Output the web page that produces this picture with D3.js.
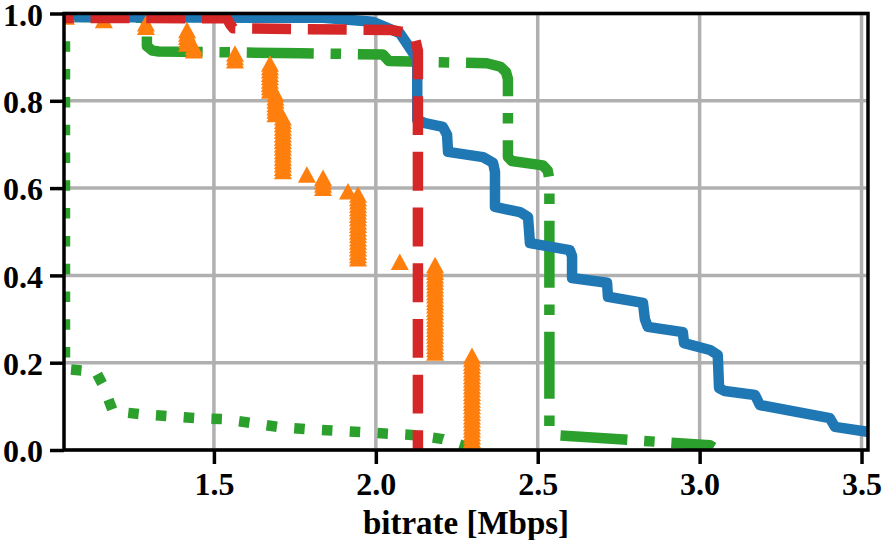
<!DOCTYPE html>
<html>
<head>
<meta charset="utf-8">
<script src="https://cdn.jsdelivr.net/npm/d3@7/dist/d3.min.js"></script>
<style>
  body { margin: 0; background: #fff; }
  text { font-family: "Liberation Serif", "Times New Roman", serif; font-weight: bold; fill: #000; }
</style>
</head>
<body>
<div id="ccdf"></div>
<script>
// tick values
var xTicks = [1.5, 2.0, 2.5, 3.0, 3.5];
var yTicks = [0.0, 0.2, 0.4, 0.6, 0.8, 1.0];

// blue (solid) curve
var blueRate = [1.000, 1.837, 1.991, 2.074, 2.105, 2.128, 2.128, 2.152, 2.207, 2.220, 2.223, 2.331, 2.362, 2.368, 2.368,
                2.445, 2.470, 2.476, 2.599, 2.606, 2.606, 2.714, 2.717, 2.825, 2.831, 2.840, 2.948, 2.952, 3.032,
                3.056, 3.060, 3.078, 3.171, 3.186, 3.402, 3.418, 3.550];
var blueFrac = [0.992, 0.990, 0.981, 0.955, 0.921, 0.895, 0.756, 0.749, 0.740, 0.722, 0.683, 0.671, 0.658, 0.637, 0.557,
                0.545, 0.534, 0.474, 0.458, 0.444, 0.394, 0.383, 0.351, 0.337, 0.300, 0.282, 0.270, 0.245, 0.229,
                0.218, 0.142, 0.135, 0.126, 0.103, 0.073, 0.053, 0.038];

// orange markers: bitrate values and how many samples sit at each
var orangeRate  = [1.043, 1.160, 1.290, 1.417, 1.438, 1.565, 1.673, 1.690, 1.713, 1.787, 1.837, 1.914, 1.945, 2.074, 2.183, 2.297];
var orangeCount = [2, 1, 2, 5, 2, 3, 9, 7, 17, 1, 4, 1, 20, 1, 27, 28];

// green dash-dot curve
var greenRate = [1.000, 1.280, 1.293, 1.293, 1.310, 1.330, 1.766, 2.022, 2.040, 2.167, 2.343, 2.385, 2.402, 2.408, 2.408,
                 2.420, 2.516, 2.531, 2.536, 2.536, 2.553, 3.032, 3.043];
var greenFrac = [0.993, 0.990, 0.980, 0.925, 0.915, 0.913, 0.909, 0.906, 0.891, 0.889, 0.886, 0.878, 0.866, 0.850, 0.671,
                 0.662, 0.652, 0.640, 0.620, 0.048, 0.034, 0.011, 0.006];

// red dashed curve
var redRate = [0.947, 1.540, 1.550, 1.560, 2.050, 2.100, 2.122, 2.130, 2.130];
var redFrac = [0.990, 0.989, 0.975, 0.966, 0.962, 0.955, 0.940, 0.915, 0.000];

// green dotted curve
var dotRate = [1.040, 1.040, 1.136, 1.157, 1.188, 1.271, 1.444, 1.528, 1.614, 1.698, 1.781, 1.951, 2.121, 2.207, 2.266, 2.291];
var dotFrac = [1.000, 0.186, 0.179, 0.149, 0.089, 0.082, 0.073, 0.071, 0.062, 0.053, 0.048, 0.041, 0.034, 0.025, 0.011, 0.000];

// set the dimensions and margins of the graph
var margin = {top: 13.5, right: 16, bottom: 90, left: 64},
    width = 884 - margin.left - margin.right,
    height = 540 - margin.top - margin.bottom;

var svG = d3.select("#ccdf")
  .append("svg")
    .attr("width", width + margin.left + margin.right)
    .attr("height", height + margin.top + margin.bottom)
  .append("g")
    .attr("transform", "translate(" + margin.left + "," + margin.top + ")");

var x = d3.scaleLinear()
  .domain([1.037, 3.52])
  .range([0, width]);

var y = d3.scaleLinear()
  .domain([0, 1])
  .range([height, 0]);

svG.append("clipPath")
    .attr("id", "plotArea")
  .append("rect")
    .attr("width", width)
    .attr("height", height);

// grid
svG.append("g")
  .selectAll("line")
  .data(xTicks)
  .enter()
  .append("line")
    .attr("x1", d => x(d)).attr("x2", d => x(d))
    .attr("y1", 0).attr("y2", height)
    .attr("stroke", "#b0b0b0")
    .attr("stroke-width", 3.5);

svG.append("g")
  .selectAll("line")
  .data(yTicks)
  .enter()
  .append("line")
    .attr("x1", 0).attr("x2", width)
    .attr("y1", d => y(d)).attr("y2", d => y(d))
    .attr("stroke", "#b0b0b0")
    .attr("stroke-width", 3.5);

var line = d3.line()
  .x(d => x(d[0]))
  .y(d => y(d[1]));

var plot = svG.append("g").attr("clip-path", "url(#plotArea)");

function drawCurve(rate, frac, color, dash) {
  plot.append("path")
    .datum(d3.zip(rate, frac))
    .attr("d", line)
    .attr("fill", "none")
    .attr("stroke", color)
    .attr("stroke-width", 10.5)
    .attr("stroke-linejoin", "round")
    .attr("stroke-dasharray", dash);
}

drawCurve(dotRate, dotFrac, "#2ca02c", "10.5,17.3");
drawCurve(greenRate, greenFrac, "#2ca02c", "67,16.8,10.5,16.8");
drawCurve(blueRate, blueFrac, "#1f77b4", null);

// orange: one triangle per sample, stacked as a ccdf
var nOrange = d3.sum(orangeCount);
var orangePts = [];
var idx = 0;
orangeRate.forEach(function(r, k) {
  for (var c = 0; c < orangeCount[k]; c++) {
    orangePts.push([r, 1 - idx / nOrange]);
    idx++;
  }
});

plot.selectAll(".tri")
  .data(orangePts)
  .enter()
  .append("path")
    .attr("class", "tri")
    .attr("d", "M0,-8.5L9,8L-9,8Z")
    .attr("transform", d => "translate(" + x(d[0]) + "," + y(d[1]) + ")")
    .attr("fill", "#ff7f0e");

drawCurve(redRate, redFrac, "#d62728", "38.9,16.8");

// axes
var xAxis = svG.append("g")
  .attr("transform", "translate(0," + height + ")")
  .call(d3.axisBottom(x).tickValues(xTicks).tickSize(14).tickPadding(8).tickFormat(d3.format(".1f")));

var yAxis = svG.append("g")
  .call(d3.axisLeft(y).tickValues(yTicks).tickSize(14).tickPadding(7).tickFormat(d3.format(".1f")));

[xAxis, yAxis].forEach(function(a) {
  a.select(".domain").remove();
  a.selectAll(".tick line").attr("stroke", "#000").attr("stroke-width", 3.5);
  a.selectAll(".tick text")
    .style("font-size", "32px")
    .style("font-family", "'Liberation Serif', 'Times New Roman', serif")
    .style("font-weight", "bold");
});
yAxis.selectAll(".tick text").attr("dy", "0.37em");

// frame
svG.append("rect")
  .attr("width", width)
  .attr("height", height)
  .attr("fill", "none")
  .attr("stroke", "#000")
  .attr("stroke-width", 3.5);

svG.append("text")
  .attr("x", width / 2)
  .attr("y", height + 84)
  .attr("text-anchor", "middle")
  .style("font-size", "33px")
  .text("bitrate [Mbps]");
</script>
</body>
</html>
